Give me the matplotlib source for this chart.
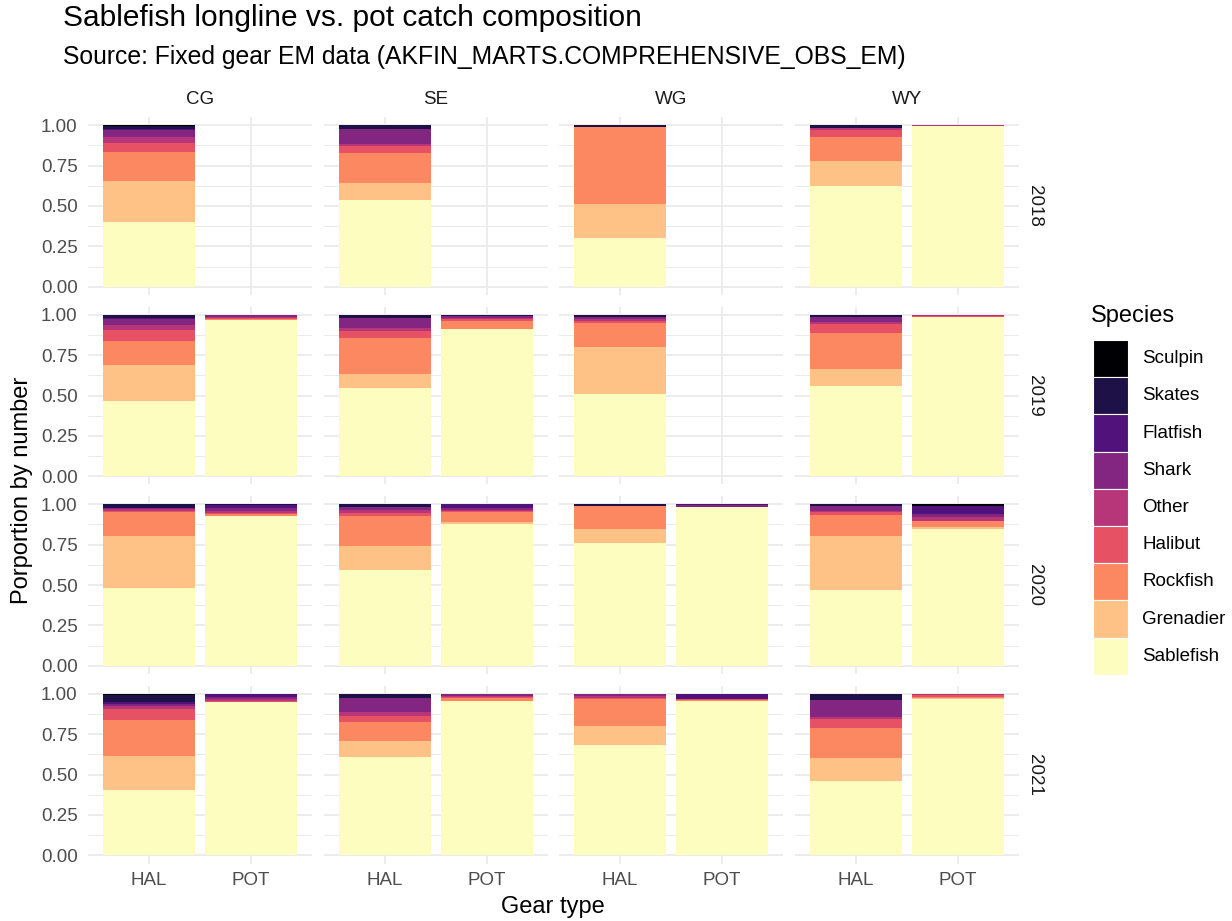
import matplotlib.pyplot as plt
import numpy as np
from matplotlib.patches import Rectangle
from matplotlib.ticker import FixedLocator

# Catch composition (proportion by number).
# Each species: rows = years, columns = CG-HAL, CG-POT, SE-HAL, SE-POT,
# WG-HAL, WG-POT, WY-HAL, WY-POT. All-zero column = no bar.
years = ["2018", "2019", "2020", "2021"]
regions = ["CG", "SE", "WG", "WY"]
gears = ["HAL", "POT"]

species = ["Sablefish", "Grenadier", "Rockfish", "Halibut", "Other",
           "Shark", "Flatfish", "Skates", "Sculpin"]
colors = ["#FCFDBF", "#FEC287", "#FB8861", "#E65164", "#B63679",
          "#822681", "#51127C", "#1D1147", "#000004"]

sablefish = [[.403, 0, .535, 0, .300, 0, .624, .997],
             [.463, .967, .547, .909, .510, 0, .560, .988],
             [.480, .928, .594, .880, .761, .979, .468, .845],
             [.403, .947, .607, .957, .681, .957, .458, .967]]
grenadier = [[.250, 0, .105, 0, .210, 0, .155, 0],
             [.226, 0, .083, 0, .288, 0, .105, 0],
             [.320, 0, .144, .012, .088, 0, .336, .016],
             [.210, 0, .100, 0, .117, 0, .141, .003]]
rockfish = [[.180, 0, .186, 0, .478, 0, .147, 0],
            [.146, .006, .226, .052, .153, 0, .220, 0],
            [.153, .008, .186, .058, .137, 0, .126, .033],
            [.221, 0, .120, .018, .169, .006, .188, .012]]
halibut = [[.055, 0, .044, 0, 0, 0, .045, 0],
           [.070, .006, .045, .012, .008, 0, .057, .003],
           [.005, .008, .020, .005, 0, 0, .019, .004],
           [.068, .008, .037, .006, .004, .004, .058, .008]]
other = [[.038, 0, .014, 0, 0, 0, .008, .003],
         [.029, .008, .015, .008, .012, 0, .012, .006],
         [.010, .015, .017, .010, 0, .003, .008, .025],
         [.020, .012, .025, .006, .016, 0, .012, .010]]
shark = [[.041, 0, .093, 0, 0, 0, .005, 0],
         [.037, .008, .061, .012, .012, 0, .030, .003],
         [.010, .015, .020, .010, 0, .012, .029, .016],
         [.015, .012, .086, .008, .012, 0, .106, 0]]
flatfish = [[.010, 0, 0, 0, 0, 0, 0, 0],
            [.006, 0, 0, 0, .005, 0, 0, 0],
            [0, .020, 0, .025, 0, .006, 0, .050],
            [.010, .020, 0, 0, .001, .033, 0, 0]]
skates = [[.020, 0, .023, 0, .012, 0, .016, 0],
          [.023, .005, .023, .007, .012, 0, .016, 0],
          [.022, .006, .019, 0, .014, 0, .014, .001],
          [.045, .001, .025, .005, 0, 0, .037, 0]]
sculpin = [[.003, 0, 0, 0, 0, 0, 0, 0],
           [0, 0, 0, 0, 0, 0, 0, 0],
           [0, 0, 0, 0, 0, 0, 0, .010],
           [.008, 0, 0, 0, 0, 0, 0, 0]]

values = np.array([sablefish, grenadier, rockfish, halibut, other,
                   shark, flatfish, skates, sculpin])  # (species, year, col)

plt.rcParams['font.family'] = ['Liberation Sans', 'DejaVu Sans']

W, H = 1232, 921
fig = plt.figure(figsize=(W / 100, H / 100), dpi=100)

col_left = [88, 324, 559, 795]
row_top = [117, 306.5, 496, 685.5]
pw, ph = 224, 178
grid_c = '#EBEBEB'
small = 13.5
big = 17

for i, yr in enumerate(years):
    for j, reg in enumerate(regions):
        ax = fig.add_axes([col_left[j] / W, 1 - (row_top[i] + ph) / H, pw / W, ph / H])
        ax.set_xlim(0.4, 2.6)
        ax.set_ylim(-0.05, 1.05)
        ax.set_xticks([1, 2])
        ax.set_yticks([0, 0.25, 0.5, 0.75, 1.0])
        ax.yaxis.set_minor_locator(FixedLocator([0.125, 0.375, 0.625, 0.875]))
        ax.grid(which='major', color=grid_c, lw=1.3)
        ax.grid(which='minor', axis='y', color=grid_c, lw=0.7)
        ax.set_axisbelow(True)
        for s in ax.spines.values():
            s.set_visible(False)
        ax.tick_params(which='both', length=0, labelsize=small, labelcolor='#4D4D4D')
        ax.tick_params(axis='y', pad=7.5)
        ax.tick_params(axis='x', pad=6)

        if j == 0:
            ax.set_yticklabels(['0.00', '0.25', '0.50', '0.75', '1.00'])
        else:
            ax.set_yticklabels([])
        if i == len(years) - 1:
            ax.set_xticklabels(gears)
        else:
            ax.set_xticklabels([])

        for g in range(2):
            col = values[:, i, j * 2 + g]
            if col.sum() == 0:
                continue
            bottom = 0.0
            for k in range(len(species)):
                if col[k] > 0:
                    ax.bar(g + 1, col[k], bottom=bottom, width=0.9,
                           color=colors[k], edgecolor='none')
                bottom += col[k]

        if i == 0:
            ax.text(0.5, 1.05, reg, transform=ax.transAxes, ha='center',
                    va='bottom', fontsize=small, color='#1A1A1A')
        if j == len(regions) - 1:
            ax.text(1.07, 0.5, yr, transform=ax.transAxes, ha='center',
                    va='center', rotation=-90, fontsize=small, color='#1A1A1A')

fig.text(63 / W, 1 - 18 / H, "Sablefish longline vs. pot catch composition",
         fontsize=21.5, ha='left', va='center')
fig.text(63 / W, 1 - 57 / H,
         "Source: Fixed gear EM data (AKFIN_MARTS.COMPREHENSIVE_OBS_EM)",
         fontsize=17.8, ha='left', va='center')
fig.text(22 / W, 1 - 490 / H, "Porportion by number", rotation=90,
         fontsize=big, ha='center', va='center')
fig.text(553 / W, 1 - 907 / H, "Gear type", fontsize=big, ha='center', va='center')

# legend: keys stacked from Sculpin (top) to Sablefish (bottom)
fig.text(1091 / W, 1 - 316 / H, "Species", fontsize=big, ha='left', va='center')
key_top, key_h, key_w = 340, 37.2, 35
for n, k in enumerate(range(len(species) - 1, -1, -1)):
    y0 = key_top + n * key_h
    fig.patches.append(Rectangle((1093 / W, 1 - (y0 + key_h) / H), key_w / W, key_h / H,
                                 transform=fig.transFigure, facecolor=colors[k],
                                 edgecolor='white', lw=0.8))
    fig.text(1142 / W, 1 - (y0 + key_h / 2) / H, species[k], fontsize=small,
             ha='left', va='center')

fig.savefig('out.png', dpi=100, facecolor='white')
